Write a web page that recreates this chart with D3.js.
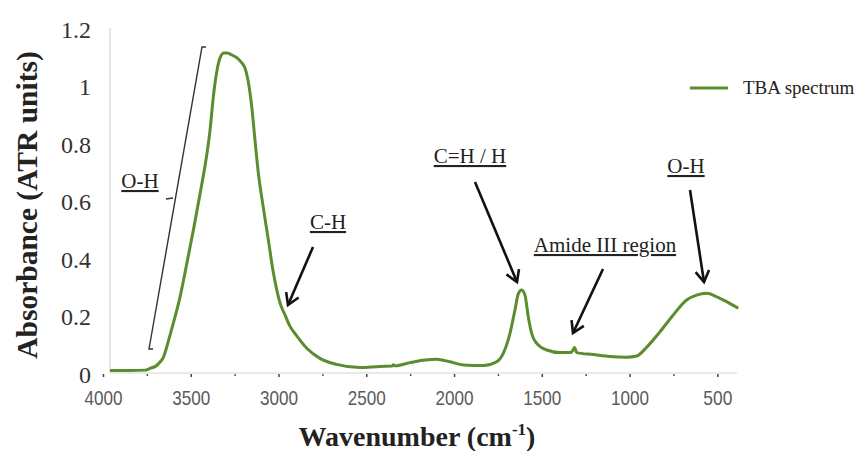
<!DOCTYPE html>
<html>
<head>
<meta charset="utf-8">
<script src="https://cdn.jsdelivr.net/npm/d3@7"></script>
<style>
  html, body { margin: 0; padding: 0; background: #fff; }
  svg { display: block; }
  text { font-family: "Liberation Serif", "Times New Roman", serif; }
</style>
</head>
<body>
<svg id="chart" width="860" height="451"></svg>
<script>
// ---------- data ----------
const wavenumber = [3960, 3846, 3761, 3732, 3694, 3675, 3656, 3637, 3618, 3599, 3561, 3523, 3485, 3447, 3409, 3390, 3372, 3352, 3333, 3311, 3293, 3265, 3236, 3214, 3191, 3174, 3153, 3134, 3115, 3087, 3058, 3030, 3010, 2991, 2963, 2935, 2896, 2839, 2764, 2669, 2536, 2422, 2353, 2346, 2336, 2251, 2165, 2099, 2023, 1947, 1833, 1757, 1719, 1681, 1653, 1634, 1615, 1596, 1577, 1558, 1529, 1472, 1396, 1339, 1320, 1314, 1301, 1207, 1112, 1016, 960, 902, 827, 751, 675, 618, 561, 504, 447, 381];
const absorbance = [0.009, 0.009, 0.010, 0.016, 0.026, 0.038, 0.054, 0.090, 0.132, 0.174, 0.264, 0.379, 0.497, 0.623, 0.758, 0.845, 0.957, 1.047, 1.096, 1.113, 1.113, 1.106, 1.096, 1.082, 1.061, 1.019, 0.929, 0.810, 0.696, 0.577, 0.463, 0.351, 0.289, 0.243, 0.202, 0.163, 0.129, 0.086, 0.051, 0.030, 0.019, 0.023, 0.024, 0.0285, 0.025, 0.036, 0.045, 0.048, 0.039, 0.028, 0.026, 0.039, 0.069, 0.139, 0.219, 0.275, 0.289, 0.271, 0.196, 0.138, 0.103, 0.080, 0.071, 0.071, 0.082, 0.089, 0.071, 0.064, 0.057, 0.055, 0.059, 0.090, 0.143, 0.202, 0.254, 0.271, 0.277, 0.265, 0.248, 0.225];
const xMajorTicks = [4000, 3500, 3000, 2500, 2000, 1500, 1000, 500];
const xMinorTicks = [3750, 3250, 2750, 2250, 1750, 1250, 750];
const yTicks = [0, 0.2, 0.4, 0.6, 0.8, 1, 1.2];
const seriesName = "TBA spectrum";
const xTitle = "Wavenumber (cm";
const xTitleSup = "-1";
const yTitle = "Absorbance (ATR units)";
const annotations = [
  { label: "C-H", tx: 328, ty: 229, x1: 313, y1: 247, x2: 288, y2: 305 },
  { label: "C=H / H", tx: 470, ty: 163, x1: 475, y1: 182, x2: 517, y2: 282 },
  { label: "Amide III region", tx: 605, ty: 252, x1: 603, y1: 269, x2: 573, y2: 333 },
  { label: "O-H", tx: 686, ty: 173, x1: 690, y1: 190, x2: 704, y2: 282 }
];

// ---------- layout ----------
const svg = d3.select("#chart");
const x = d3.scaleLinear().domain([3960, 380]).range([110, 738.4]);
const y = d3.scaleLinear().domain([0, 1.2]).range([373, 28]);
const green = "#5b8c30";

// axes lines
svg.append("line").attr("x1", 110).attr("x2", 110).attr("y1", y(1.2)).attr("y2", y(0))
  .attr("stroke", "#d4d4d4").attr("stroke-width", 1.2);

const gx = svg.append("g").attr("transform", `translate(0,${y(0)})`);
gx.append("line").attr("x1", 110).attr("x2", 737).attr("stroke", "#d4d4d4").attr("stroke-width", 1.2);
const xAxis = d3.axisBottom(x).tickValues(xMajorTicks).tickSize(4).tickPadding(13).tickFormat(d3.format("d"));
const gxa = gx.append("g").call(xAxis);
gxa.select(".domain").remove();
gxa.selectAll(".tick line").attr("stroke", "#444").attr("stroke-width", 1.5).attr("y1", 1);
gxa.selectAll(".tick text").attr("fill", "#5a5a5a")
  .style("font-family", "'Liberation Sans', Arial, sans-serif")
  .style("font-size", "21px")
  .attr("textLength", d => String(d).length === 4 ? 38 : 29)
  .attr("lengthAdjust", "spacingAndGlyphs");
const xMinor = d3.axisBottom(x).tickValues(xMinorTicks).tickSize(2).tickFormat("");
const gxm = gx.append("g").call(xMinor);
gxm.select(".domain").remove();
gxm.selectAll(".tick line").attr("stroke", "#555").attr("stroke-width", 1.5).attr("y1", 1).attr("y2", 3);

const yAxis = d3.axisLeft(y).tickValues(yTicks).tickSize(0).tickPadding(19)
  .tickFormat(d => (d === 0 || d === 1) ? String(d) : d3.format(".1f")(d));
const gy = svg.append("g").attr("transform", "translate(110,0)").call(yAxis);
gy.select(".domain").remove();
gy.selectAll(".tick text").attr("fill", "#333").attr("dy", "0.38em")
  .style("font-family", "'Liberation Serif', serif").style("font-size", "24px");

// spectrum line
const pts = wavenumber.map((w, i) => [w, absorbance[i]]);
const line = d3.line().x(d => x(d[0])).y(d => y(d[1])).curve(d3.curveMonotoneX);
svg.append("path").datum(pts).attr("d", line)
  .attr("fill", "none").attr("stroke", green).attr("stroke-width", 3).attr("stroke-linejoin", "round");

// axis titles
svg.append("text").attr("transform", "translate(37,205) rotate(-90)")
  .attr("text-anchor", "middle").attr("font-weight", "bold").attr("font-size", 29.5).attr("fill", "#222")
  .text(yTitle);
const xt = svg.append("text").attr("x", 417).attr("y", 446).attr("text-anchor", "middle")
  .attr("font-weight", "bold").attr("font-size", 28).attr("fill", "#222");
xt.append("tspan").text(xTitle);
xt.append("tspan").attr("dy", -11).attr("font-size", 17).text(xTitleSup);
xt.append("tspan").attr("dy", 11).text(")");

// legend
svg.append("line").attr("x1", 690).attr("x2", 728).attr("y1", 88).attr("y2", 88)
  .attr("stroke", green).attr("stroke-width", 3);
svg.append("text").attr("x", 743).attr("y", 94).attr("font-size", 19).attr("fill", "#222").text(seriesName);

// O-H bracket
const bracket = svg.append("g").attr("stroke", "#333").attr("stroke-width", 1.4).attr("fill", "none");
bracket.append("path").attr("d", "M153,349 L149,349 L202,47 L206,47");
bracket.append("path").attr("d", "M173,198 L166,199");
svg.append("text").attr("x", 140).attr("y", 188).attr("text-anchor", "middle").attr("font-size", 21)
  .attr("fill", "#222").style("text-decoration", "underline").text("O-H");

// arrow annotations
annotations.forEach(a => {
  svg.append("text").attr("x", a.tx).attr("y", a.ty).attr("text-anchor", "middle").attr("font-size", 21)
    .attr("fill", "#222").style("text-decoration", "underline").text(a.label);
  svg.append("line").attr("x1", a.x1).attr("y1", a.y1).attr("x2", a.x2).attr("y2", a.y2)
    .attr("stroke", "#111").attr("stroke-width", 2.6);
  const ang = Math.atan2(a.y2 - a.y1, a.x2 - a.x1);
  const L = 13, spread = 0.55;
  const p1 = [a.x2 - L * Math.cos(ang - spread), a.y2 - L * Math.sin(ang - spread)];
  const p2 = [a.x2 - L * Math.cos(ang + spread), a.y2 - L * Math.sin(ang + spread)];
  svg.append("path").attr("d", `M${p1[0]},${p1[1]} L${a.x2},${a.y2} L${p2[0]},${p2[1]}`)
    .attr("fill", "none").attr("stroke", "#111").attr("stroke-width", 2.6).attr("stroke-linejoin", "miter");
});
</script>
</body>
</html>
